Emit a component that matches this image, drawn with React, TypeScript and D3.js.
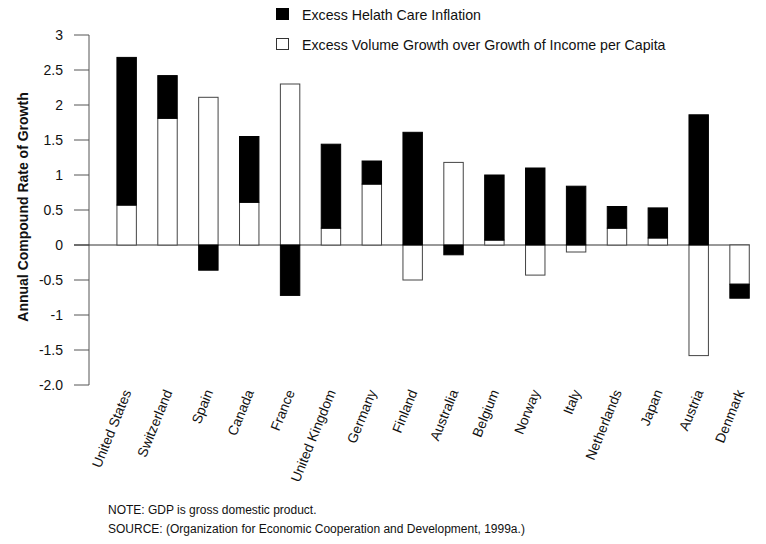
import React from "react";
import * as d3 from "d3";

const countries = [
  "United States", "Switzerland", "Spain", "Canada", "France", "United Kingdom",
  "Germany", "Finland", "Australia", "Belgium", "Norway", "Italy",
  "Netherlands", "Japan", "Austria", "Denmark",
];
// Excess volume growth over growth of income per capita (white)
const volumeGrowth = [0.57, 1.81, 2.11, 0.61, 2.30, 0.24, 0.87, -0.50, 1.18, 0.07, -0.43, -0.10, 0.24, 0.10, -1.58, -0.56];
// Excess health care inflation (black)
const inflation = [2.11, 0.61, -0.36, 0.94, -0.72, 1.20, 0.33, 1.61, -0.14, 0.93, 1.10, 0.84, 0.31, 0.43, 1.86, -0.20];

const yTicks = [3, 2.5, 2, 1.5, 1, 0.5, 0, -0.5, -1, -1.5, -2];
const yTickLabels = ["3", "2.5", "2", "1.5", "1", "0.5", "0", "-0.5", "-1", "-1.5", "-2.0"];

const seriesKeys = ["volume", "inflation"];
const legendLabels = [
  "Excess Helath Care Inflation",
  "Excess Volume Growth over Growth of Income per Capita",
];

const FONT = "'Liberation Sans', Arial, Helvetica, sans-serif";

export default function App() {
  const W = 766, H = 544;
  const axisX = 89;
  const y = d3.scaleLinear().domain([-2, 3]).range([385, 35]);
  const x = d3.scaleBand<string>().domain(countries).range([96, 770.2]).paddingInner(0.5).paddingOuter(0.5);

  const rows = countries.map((c, i) => ({ country: c, volume: volumeGrowth[i], inflation: inflation[i] }));
  const stack = d3.stack<any>().keys(seriesKeys).offset(d3.stackOffsetDiverging);
  const layers = stack(rows);

  const lastX = (x(countries[countries.length - 1]) as number) + x.bandwidth();

  return (
    <svg width={W} height={H} style={{ position: "absolute", left: 0, top: 0, background: "#fff" }} fontFamily={FONT}>
      {/* legend */}
      <rect x={276.5} y={8.5} width={12} height={11} fill="#000" stroke="#000" />
      <text x={302} y={20} fontSize={14.2} fill="#111">{legendLabels[0]}</text>
      <rect x={276.5} y={38.5} width={12} height={11} fill="#fff" stroke="#333" />
      <text x={302} y={50} fontSize={14.2} fill="#111">{legendLabels[1]}</text>

      {/* y axis */}
      <line x1={axisX} x2={axisX} y1={y(3)} y2={y(-2)} stroke="#555" />
      {yTicks.map((t, i) => (
        <g key={t}>
          <line x1={74} x2={axisX} y1={y(t)} y2={y(t)} stroke="#555" />
          <text x={63} y={y(t)} dy="0.35em" textAnchor="end" fontSize={14} fill="#111">{yTickLabels[i]}</text>
        </g>
      ))}
      <text transform={`translate(28,207) rotate(-90)`} textAnchor="middle" fontSize={14} fontWeight="bold" fill="#111">
        Annual Compound Rate of Growth
      </text>

      {/* zero line */}
      <line x1={74} x2={lastX} y1={y(0)} y2={y(0)} stroke="#333" />

      {/* bars */}
      {layers.map((layer) => (
        <g key={layer.key}>
          {layer.map((d: any, i: number) => {
            const top = y(Math.max(d[0], d[1]));
            const bot = y(Math.min(d[0], d[1]));
            const black = layer.key === "inflation";
            return (
              <rect
                key={i}
                x={(x(countries[i]) as number) + 0.5}
                y={top}
                width={x.bandwidth() - 1}
                height={Math.max(0, bot - top)}
                fill={black ? "#000" : "#fff"}
                stroke={black ? "#000" : "#444"}
                strokeWidth={1}
              />
            );
          })}
        </g>
      ))}

      {/* x labels */}
      {countries.map((c) => {
        const cx = (x(c) as number) + x.bandwidth() / 2 + 5;
        return (
          <text key={c} transform={`translate(${cx},392) rotate(-68)`} textAnchor="end" fontSize={13.8} fill="#111">
            {c}
          </text>
        );
      })}

      {/* notes */}
      <text x={108} y={514} fontSize={12} fill="#111">NOTE: GDP is gross domestic product.</text>
      <text x={108} y={533} fontSize={12} fill="#111">SOURCE: (Organization for Economic Cooperation and Development, 1999a.)</text>
    </svg>
  );
}
